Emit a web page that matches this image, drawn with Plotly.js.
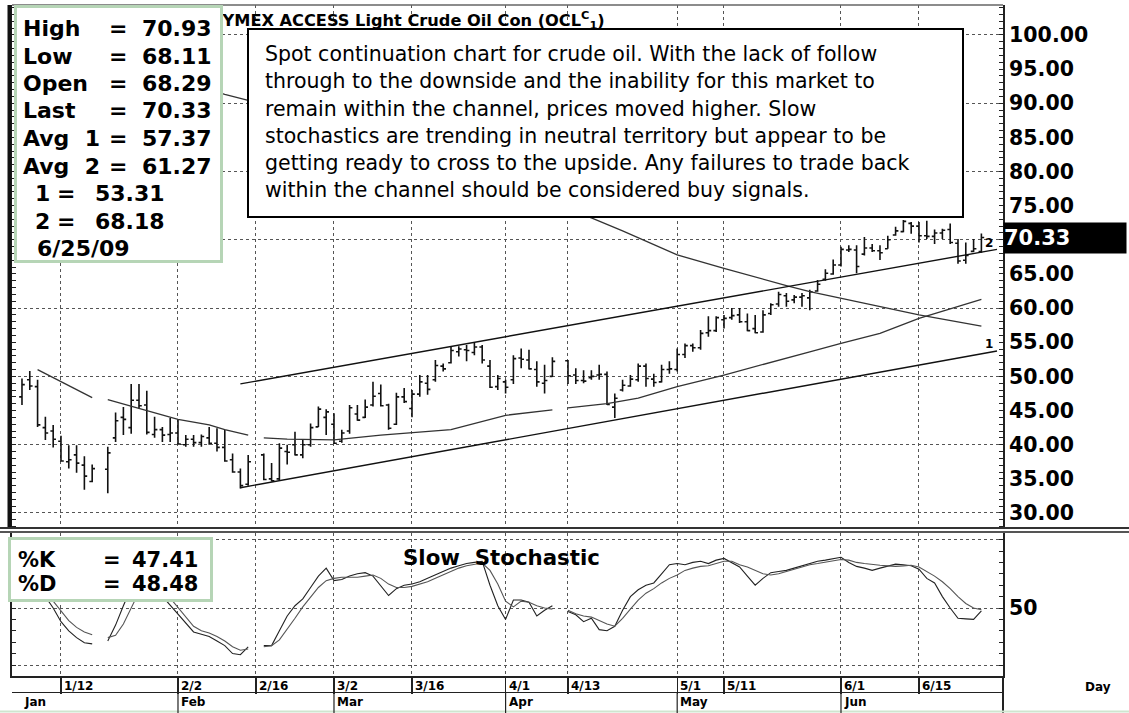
<!DOCTYPE html>
<html>
<head>
<meta charset="utf-8">
<script src="https://cdn.plot.ly/plotly-3.0.1.min.js"></script>
<style>
  html, body { margin: 0; padding: 0; background: #fff; }
  #wrap { position: relative; width: 1129px; height: 713px; }
  #price { position: absolute; left: 0; top: 0; width: 1129px; height: 531px; }
  #stoch { position: absolute; left: 0; top: 531px; width: 1129px; height: 182px; }
</style>
</head>
<body>
<div id="wrap"><div id="price"></div><div id="stoch"></div></div>
<script>
// daily bars, 2 Jan 2009 .. 25 Jun 2009 (one slot per weekday, null = no trading)
var openP = [
  null, 47.0, 49.5, 48.5, 42.5, 42.0, 40.5, 37.5, 38.5, 37.0,
  34.6, null, 36.4, 41.0, 44.0, 42.5, 46.5, 45.8, 41.5, 42.2,
  41.5, 41.7, 40.0, 40.8, 40.3, 41.0, 40.2, 39.6, 37.8, 36.0,
  34.2, null, 38.5, 35.0, 35.0, 39.0, 40.0, 38.5, 40.0, 42.6,
  44.0, 43.0, 40.5, 42.0, 44.5, 44.0, 45.8, 47.5, 45.8, 43.0,
  47.0, 45.3, 47.4, 49.0, 49.5, 51.5, 52.0, 53.6, 53.9, 53.5,
  54.3, 51.5, 48.5, 49.2, 49.5, 52.7, 52.4, 51.0, 49.0, 50.0,
  null, 52.3, 50.2, 49.4, 49.8, 50.2, 50.3, 45.5, 48.0, 48.6,
  49.5, 51.5, 49.6, 49.2, 51.0, 51.0, 53.2, 54.5, 54.2, 56.4,
  56.7, 58.3, 58.6, 59.0, 58.0, 57.0, 56.5, 59.2, 60.6, 61.8,
  61.2, 61.6, 61.5, 62.5, 64.2, 65.0, 66.3, 68.5, 68.5, 67.9,
  68.8, 68.4, 68.7, 70.7, 71.2, 72.4, 72.0, 70.6, 70.5, 71.0,
  71.5, 69.5, 67.0, 68.3, 68.29
];
var highP = [
  null, 49.7, 50.8, 49.5, 44.1, 42.9, 41.3, 39.9, 39.9, 38.3,
  37.1, null, 39.7, 44.7, 45.5, 48.9, 48.9, 47.9, 44.1, 42.6,
  43.9, 43.6, 41.4, 41.4, 41.5, 42.6, 42.4, 42.2, 38.7, 36.5,
  38.5, null, 38.7, 37.3, 40.2, 40.0, 41.9, 40.7, 43.1, 45.6,
  45.2, 44.6, 42.2, 45.8, 45.8, 46.6, 49.2, 48.8, 46.0, 47.6,
  48.3, 48.0, 50.2, 50.2, 52.4, 51.9, 54.3, 54.4, 54.6, 54.9,
  54.6, 52.4, 50.2, 49.5, 53.1, 54.1, 53.9, 52.2, 51.7, 52.8,
  null, 52.4, 51.2, 50.9, 50.9, 51.7, 50.7, 47.5, 49.5, 50.2,
  51.9, 51.9, 50.4, 51.7, 52.2, 54.1, 54.8, 54.8, 56.8, 58.8,
  58.8, 59.0, 60.0, 60.0, 59.2, 59.0, 59.7, 60.7, 62.4, 62.2,
  61.9, 62.2, 62.7, 64.1, 65.7, 67.1, 69.0, 69.2, 69.2, 70.4,
  69.4, 69.2, 70.6, 71.9, 72.9, 72.6, 72.6, 72.8, 71.5, 71.6,
  72.4, 70.1, 69.6, 70.1, 70.93
];
var lowP = [
  null, 45.8, 48.0, 42.6, 40.7, 39.6, 37.5, 36.5, 35.9, 33.4,
  34.5, null, 32.9, 40.4, 41.4, 41.6, 45.3, 41.5, 41.0, 40.4,
  40.4, 40.0, 39.7, 39.7, 39.7, 40.0, 39.0, 37.5, 35.9, 33.6,
  34.0, null, 34.8, 34.6, 34.8, 37.1, 38.4, 38.0, 39.7, 42.6,
  41.4, 40.1, 40.3, 41.6, 43.5, 43.9, 45.6, 45.6, 42.2, 42.9,
  46.1, 44.0, 47.0, 47.3, 49.2, 50.7, 51.9, 52.9, 52.2, 53.1,
  51.9, 48.3, 48.0, 47.5, 48.9, 51.2, 51.0, 48.5, 47.5, 49.9,
  null, 48.9, 48.9, 49.0, 49.5, 49.5, 45.8, 43.9, 47.8, 48.5,
  49.2, 48.5, 48.5, 49.1, 50.4, 50.7, 52.7, 53.6, 53.9, 55.8,
  56.5, 57.0, 58.3, 57.8, 56.6, 56.3, 56.4, 59.0, 60.2, 60.2,
  60.7, 60.2, 59.7, 62.4, 64.0, 64.9, 66.1, 68.2, 65.1, 67.7,
  68.2, 67.05, 68.7, 70.6, 71.1, 70.9, 69.6, 70.1, 69.4, 70.1,
  69.4, 66.5, 66.5, 68.2, 68.11
];
var closeP = [
  null, 48.8, 48.6, 42.9, 41.7, 40.8, 37.6, 37.8, 37.3, 35.4,
  36.5, null, 38.8, 43.5, 43.7, 46.5, 45.7, 41.8, 42.2, 41.4,
  41.7, 40.1, 40.8, 40.3, 41.2, 40.2, 39.6, 37.6, 36.0, 34.0,
  37.5, null, 34.9, 34.7, 39.5, 38.9, 38.5, 40.0, 42.5, 45.2,
  44.8, 40.2, 41.7, 45.4, 43.6, 45.5, 47.1, 45.7, 42.4, 47.0,
  46.3, 47.4, 49.2, 48.1, 51.6, 51.1, 53.8, 54.0, 53.8, 54.3,
  52.4, 48.4, 49.7, 48.4, 52.6, 52.5, 51.1, 49.2, 49.4, 52.2,
  null, 50.1, 49.4, 49.3, 50.0, 50.3, 45.9, 46.8, 48.7, 49.6,
  51.5, 49.7, 49.1, 51.0, 51.1, 53.2, 54.5, 54.2, 56.3, 56.7,
  58.6, 58.5, 58.9, 58.0, 56.7, 56.4, 59.0, 60.5, 62.0, 61.0,
  61.6, 61.8, 62.4, 63.5, 65.1, 66.3, 68.6, 68.6, 66.1, 68.8,
  68.4, 68.1, 70.0, 71.3, 72.7, 72.0, 70.6, 70.5, 71.0, 71.4,
  69.6, 66.9, 67.7, 68.7, 70.33
];

// slow stochastic %K and %D, same slots
var pctK = [
  null, null, null, 66, 60, 50, 38, 30, 24, 19.5,
  18.5, null, 21, 35, 52, 68, 78, 75, 68, 60,
  52, 45, 36, 29, 27, 25, 21, 17, 10, 9,
  16, null, 17, 17, 30, 43, 52, 58, 68, 78,
  85, 74, 75, 78, 80, 81, 78, 70, 61, 67,
  70, 71, 73, 76, 79, 82, 85, 87, 89, 90,
  91, 70, 52, 40, 57, 57, 55, 43, 48, 52,
  null, 47, 44, 38, 41, 31, 30, 34, 48, 60,
  66, 70, 72, 80, 88, 89, 88, 90, 91, 89,
  92, 93.5, 90, 86, 78, 70, 76, 81, 82, 83,
  85, 87, 89, 91, 92, 93, 94.5, 90, 86.5, 85,
  83, 85, 87, 88.5, 88, 87, 84, 76, 72, 60,
  50, 41, 40.5, 40, 47.41
];
var pctD = [
  null, null, null, 68, 63, 56, 48, 39, 33, 29,
  26.5, null, 24, 26, 36, 50, 64, 73, 74, 67,
  59, 51, 42, 34, 30, 28, 25, 21, 16, 13,
  14, null, 16, 17, 22, 31, 41, 51, 60, 68,
  74, 76, 77, 77, 77, 78, 79, 76, 71, 68,
  68, 69, 71, 73, 76, 79, 82, 85, 87, 88.5,
  89.5, 83, 71, 56, 51, 56, 55, 52, 50, 49,
  null, 48, 45, 43, 42, 39, 36, 34, 41, 49,
  57, 63, 67, 72, 76, 79, 83, 85, 86.5, 87,
  89, 91, 91, 88, 86, 83, 80, 79, 80, 82,
  84, 86, 88, 89, 90, 91, 92.5, 92, 90, 89,
  88, 87.5, 87, 86.5, 87, 87.5, 86, 82, 78, 73,
  67, 60, 54, 50, 48.48
];

// moving averages, read at a few dates (null = holiday break)
var avg1Dates = ['2009-01-07', '2009-02-10', '2009-02-13', '2009-02-16', '2009-02-17', '2009-03-13',
                 '2009-04-16', '2009-04-22', '2009-05-01', '2009-05-11', '2009-05-21', '2009-05-26',
                 '2009-06-15', '2009-06-25'];
var avg1Vals = [99.5, 91.3, 90.4, null, 90.0, 82.5, 73.2, 71.3, 67.8, 65.8, 63.3, 62.4, 59.0, 57.37];

var avg2Dates = ['2009-01-07', '2009-01-16', '2009-01-19', '2009-01-20', '2009-02-02', '2009-02-06',
                 '2009-02-10', '2009-02-13', '2009-02-16', '2009-02-17', '2009-02-20', '2009-03-02',
                 '2009-03-10', '2009-03-23', '2009-04-01', '2009-04-09', '2009-04-10', '2009-04-13',
                 '2009-04-20', '2009-04-24', '2009-05-01', '2009-05-11', '2009-05-15', '2009-05-26',
                 '2009-06-01', '2009-06-08', '2009-06-15', '2009-06-25'];
var avg2Vals = [51.0, 46.9, null, 46.6, 43.7, 42.9,
                42.2, 41.4, null, 41.0, 40.8, 40.7,
                41.4, 42.2, 44.3, 45.1, null, 45.4,
                46.0, 46.8, 48.5, 50.2, 51.4, 53.6,
                54.85, 56.3, 58.5, 61.27];

// channel lines (1 = lower, 2 = upper)
var chanDates = ['2009-02-12', '2009-06-29'];
var chanUpper = [48.9, 68.6];
var chanLower = [33.7, 53.72];

var weekTicks = ['2009-01-12', '2009-02-16', '2009-03-16', '2009-04-13', '2009-05-11', '2009-06-15'];
var weekLabels = ['1/12', '2/16', '3/16', '4/13', '5/11', '6/15'];
var monthTicks = ['2009-02-02', '2009-03-02', '2009-04-01', '2009-05-01', '2009-06-01'];
var monthDayLabels = ['2/2', '3/2', '4/1', '5/1', '6/1'];
var monthNames = ['Feb', 'Mar', 'Apr', 'May', 'Jun'];
var priceLabelStep = 5;
var priceGrid = [30, 40, 50, 60, 70, 80, 90, 100];
var stochGrid = [0, 50, 110];

var infoLabels = ['High', 'Low', 'Open', 'Last', 'Avg  1', 'Avg  2'];
var infoValues = ['70.93', '68.11', '68.29', '70.33', '57.37', '61.27'];
var lineLabels = ['1', '2'];
var lineValues = ['53.31', '68.18'];
var lastDate = '6/25/09';
var stochLabels = ['%K', '%D'];
var stochValues = ['47.41', '48.48'];

var note = [
  'Spot continuation chart for crude oil. With the lack of follow',
  'through to the downside and the inability for this market to',
  'remain within the channel, prices moved higher. Slow',
  'stochastics are trending in neutral territory but appear to be',
  'getting ready to cross to the upside. Any failures to trade back',
  'within the channel should be considered buy signals.'
];

// ---- calendar: every weekday (one slot each on the time axis)
function weekdays(a, b) {
  var out = [];
  var d = new Date(a + 'T00:00:00Z'), end = new Date(b + 'T00:00:00Z');
  while (d <= end) {
    var wd = d.getUTCDay();
    if (wd !== 0 && wd !== 6) out.push(d.toISOString().slice(0, 10));
    d.setUTCDate(d.getUTCDate() + 1);
  }
  return out;
}
var slots = weekdays('2009-01-02', '2009-06-30');
var days = slots.slice(0, closeP.length);

var bx = [], bo = [], bh = [], bl = [], bc = [];
for (var i = 0; i < days.length; i++) {
  if (closeP[i] === null) continue;
  bx.push(days[i]); bo.push(openP[i]); bh.push(highP[i]); bl.push(lowP[i]); bc.push(closeP[i]);
}

// price axis: a tick every dollar, a label every five
var pTickVals = [], pTickText = [];
for (var v = 28; v <= 104; v++) {
  pTickVals.push(v);
  pTickText.push(v % priceLabelStep === 0 && v >= 30 && v <= 100 ? v.toFixed(2) : '');
}
var sTickVals = [], sTickText = [];
for (var s = -10; s <= 110; s += 10) {
  sTickVals.push(s);
  sTickText.push(s === 50 ? '50' : '');
}

// ---- page-pixel helpers for the chrome (two stacked plots)
var PL = 12, PR = 1003;
function px(x) { return (x - PL) / (PR - PL); }
function pyA(y) { return (528 - y) / (528 - 5); }      // price plot: y 5..528
function pyB(y) { return (676 - y) / (676 - 533); }    // stochastic plot: y 533..676

var GRID = '#555';
var BOLD = 'DejaVu Sans';
var xRange = [-0.28, 126.77];
var allTicks = weekTicks.concat(monthTicks);

function txt(x, y, s, o) {
  o = o || {};
  return {
    xref: o.xref || 'paper', yref: o.yref || 'paper', x: x, y: y, text: s, showarrow: false,
    xanchor: o.xanchor || 'left', yanchor: o.yanchor || 'middle', xshift: o.xshift || 0,
    font: {family: o.family || BOLD, size: o.size || 22, color: o.color || '#000',
           weight: o.weight || 'bold'}
  };
}
function box(x0, y, w, h, border, bw) {
  return {xref: 'paper', yref: 'paper', x: px(x0), y: y, xanchor: 'left', yanchor: 'top',
          text: ' ', showarrow: false, width: w, height: h, bgcolor: '#fff',
          bordercolor: border, borderwidth: bw, borderpad: 0};
}
function hline(y, x0, x1, color, w) {
  return {type: 'line', xref: 'paper', yref: 'paper', x0: x0, x1: x1, y0: y, y1: y, line: {color: color, width: w}};
}
var gridMinor = function (vals) {
  return {tickmode: 'array', tickvals: vals, ticks: '', showgrid: true, gridcolor: GRID, griddash: 'dot', gridwidth: 1};
};
var xBase = {type: 'category', categoryorder: 'array', categoryarray: slots, range: xRange,
             tickmode: 'array', tickvals: allTicks, showticklabels: false, rangeslider: {visible: false},
             showgrid: true, gridcolor: GRID, griddash: 'dot', gridwidth: 1, zeroline: false};
var axisFont = {family: BOLD, size: 20.5, color: '#000', weight: 'bold'};

// ================= price panel =================
var priceData = [
  {type: 'ohlc', x: bx, open: bo, high: bh, low: bl, close: bc,
   tickwidth: 0.36, hoverinfo: 'skip',
   increasing: {line: {color: '#111', width: 1.6}},
   decreasing: {line: {color: '#111', width: 1.6}}},
  {type: 'scatter', mode: 'lines', x: avg1Dates, y: avg1Vals,
   line: {color: '#333', width: 1.3}, connectgaps: false, hoverinfo: 'skip'},
  {type: 'scatter', mode: 'lines', x: avg2Dates, y: avg2Vals,
   line: {color: '#333', width: 1.3}, connectgaps: false, hoverinfo: 'skip'},
  {type: 'scatter', mode: 'lines', x: chanDates, y: chanUpper,
   line: {color: '#111', width: 1.4}, hoverinfo: 'skip'},
  {type: 'scatter', mode: 'lines', x: chanDates, y: chanLower,
   line: {color: '#111', width: 1.4}, hoverinfo: 'skip'}
];

var annA = [];
annA.push(txt(px(207), pyA(20), 'NYMEX ACCESS Light Crude Oil Con (OCL<sup>C</sup><sub>1</sub>)', {size: 16.2}));
// info box
annA.push(box(14, pyA(5), 203, 252, '#b6d5b6', 3));
infoLabels.forEach(function (lab, k) {
  var y = pyA(28.5 + k * 27.5);
  annA.push(txt(px(21), y, lab));
  annA.push(txt(px(107), y, '='));
  annA.push(txt(px(214), y, infoValues[k], {xanchor: 'right'}));
});
lineLabels.forEach(function (lab, k) {
  var y = pyA(28.5 + (6 + k) * 27.5);
  annA.push(txt(px(33), y, lab));
  annA.push(txt(px(55), y, '='));
  annA.push(txt(px(93), y, lineValues[k]));
});
annA.push(txt(px(35), pyA(28.5 + 8 * 27.5), lastDate));
// comment box
annA.push(box(247, pyA(28), 713, 186, '#000', 2));
note.forEach(function (line, k) {
  annA.push(txt(px(263), pyA(54 + k * 27.3), line, {size: 20.5, weight: 'normal'}));
});
// last price flag and line tags
annA.push({xref: 'paper', yref: 'y', x: 1, y: closeP[closeP.length - 1], xanchor: 'left', yanchor: 'middle',
           text: closeP[closeP.length - 1].toFixed(2), showarrow: false, bgcolor: '#000', width: 122, height: 30,
           align: 'left', borderpad: 0, font: {family: BOLD, size: 21, color: '#fff', weight: 'bold'}});
annA.push(txt(days[days.length - 1], 69.5, '2', {xref: 'x', yref: 'y', size: 12, xshift: 2}));
annA.push(txt(days[days.length - 1], 54.8, '1', {xref: 'x', yref: 'y', size: 12, xshift: 2}));

var shapesA = [
  hline(1, 0, 1, '#666', 1.5),
  {type: 'line', xref: 'paper', yref: 'paper', x0: px(9.5), x1: px(9.5), y0: 0, y1: 1, line: {color: '#111', width: 4}},
  hline(0, px(0), px(1129), '#333', 2)
];

var priceLayout = {
  width: 1129, height: 531,
  margin: {l: PL, r: 1129 - PR, t: 5, b: 3},
  paper_bgcolor: 'rgba(0,0,0,0)', plot_bgcolor: '#fff', showlegend: false,
  xaxis: Object.assign({}, xBase, {ticks: '', showline: false}),
  yaxis: {range: [27.8, 104.38], side: 'right',
          tickmode: 'array', tickvals: pTickVals, ticktext: pTickText, tickfont: axisFont,
          ticks: 'inside', ticklen: 4, tickcolor: '#222', mirror: 'ticks', showgrid: false,
          minor: gridMinor(priceGrid),
          showline: true, linecolor: '#222', linewidth: 2, zeroline: false},
  annotations: annA,
  shapes: shapesA
};

// ================= stochastic panel =================
var stochData = [
  {type: 'scatter', mode: 'lines', x: days, y: pctK,
   line: {color: '#222', width: 1.1}, connectgaps: false, hoverinfo: 'skip'},
  {type: 'scatter', mode: 'lines', x: days, y: pctD,
   line: {color: '#555', width: 1.1}, connectgaps: false, hoverinfo: 'skip'}
];

var annB = [];
annB.push(box(8, pyB(537), 199, 59, '#b6d5b6', 3));
stochLabels.forEach(function (lab, k) {
  var y = pyB(560 + k * 23.5);
  annB.push(txt(px(16), y, lab, {size: 21}));
  annB.push(txt(px(101), y, '=', {size: 21}));
  annB.push(txt(px(200), y, stochValues[k], {xanchor: 'right', size: 21}));
});
annB.push(txt(px(401), pyB(558), 'Slow  Stochastic', {size: 21.3}));
weekTicks.forEach(function (d, k) {
  annB.push(txt(d, pyB(686), weekLabels[k], {xref: 'x', size: 12, xshift: 1}));
});
monthTicks.forEach(function (d, k) {
  annB.push(txt(d, pyB(686), monthDayLabels[k], {xref: 'x', size: 12, xshift: 1}));
  annB.push(txt(d, pyB(702), monthNames[k], {xref: 'x', size: 12, xshift: 1}));
});
annB.push(txt(px(22), pyB(702), 'Jan', {size: 12}));
annB.push(txt(px(1083), pyB(687), 'Day', {size: 12}));

var shapesB = [
  hline(pyB(532), px(0), px(1129), '#555', 2),
  hline(pyB(692.5), 0, 1, '#222', 1.2),
  {type: 'line', xref: 'paper', yref: 'paper', x0: 1, x1: 1, y0: pyB(676), y1: pyB(713), line: {color: '#222', width: 2}},
  hline(pyB(711.5), px(0), px(1129), '#cfe5cf', 2)
];
// month dividers run through the lower (month) row of the date band
monthTicks.forEach(function (d) {
  shapesB.push({type: 'line', xref: 'x', yref: 'paper', x0: d, x1: d, y0: pyB(692.5), y1: pyB(713),
                line: {color: '#222', width: 1.2}});
});

var stochLayout = {
  width: 1129, height: 182,
  margin: {l: PL, r: 1129 - PR, t: 2, b: 37},
  paper_bgcolor: 'rgba(0,0,0,0)', plot_bgcolor: '#fff', showlegend: false,
  xaxis: Object.assign({}, xBase, {ticks: 'outside', ticklen: 16.5, tickcolor: '#222', tickwidth: 1.2,
          showline: true, linecolor: '#222', linewidth: 1.5}),
  yaxis: {range: [-9.65, 115.8], side: 'right',
          tickmode: 'array', tickvals: sTickVals, ticktext: sTickText, tickfont: axisFont,
          ticks: 'inside', ticklen: 4, tickcolor: '#222', mirror: 'ticks', showgrid: false,
          minor: gridMinor(stochGrid),
          showline: true, linecolor: '#222', linewidth: 2, zeroline: false},
  annotations: annB,
  shapes: shapesB
};

var cfg = {staticPlot: true, displayModeBar: false};
Plotly.newPlot('price', priceData, priceLayout, cfg);
Plotly.newPlot('stoch', stochData, stochLayout, cfg);
</script>
</body>
</html>
